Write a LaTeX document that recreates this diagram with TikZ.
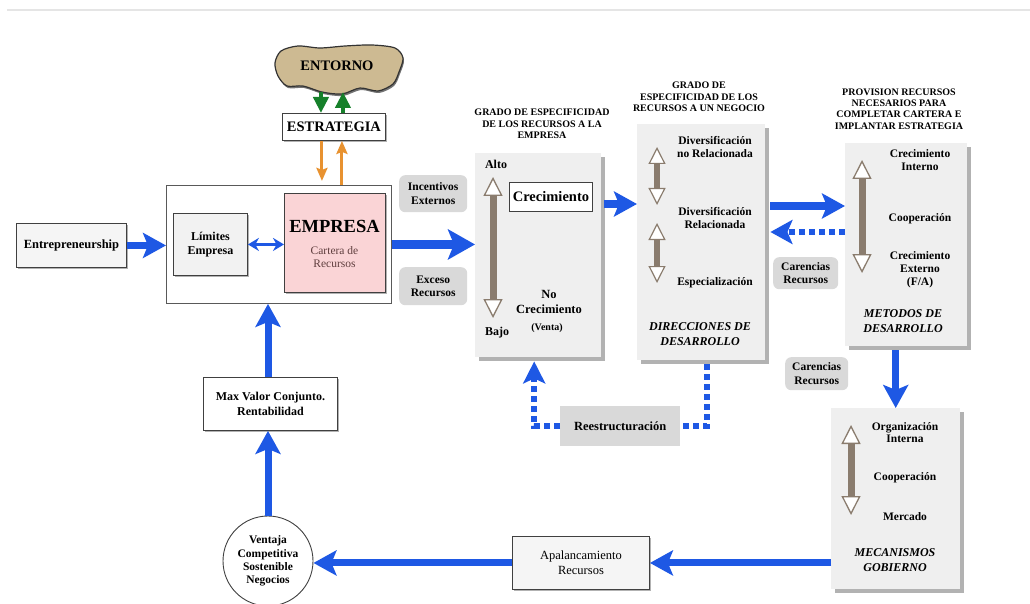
\documentclass[tikz,border=0pt]{standalone}
\usepackage{fontspec}
\setmainfont{Liberation Serif}
\usetikzlibrary{arrows.meta,shadows}
\definecolor{azul}{RGB}{30,88,228}
\definecolor{verde}{RGB}{22,128,42}
\definecolor{naranja}{RGB}{232,146,48}
\definecolor{cafe}{RGB}{138,124,110}
\definecolor{tierra}{RGB}{205,186,146}
\definecolor{rosa}{RGB}{250,212,214}
\definecolor{panelgris}{RGB}{239,239,239}
\definecolor{cajagris}{RGB}{217,217,217}
\definecolor{marron}{RGB}{95,62,62}
\newcommand{\tam}[2]{\fontsize{#1}{#2}\selectfont}
\begin{document}
\begin{tikzpicture}[x=1pt,y=-1pt,
	txt/.style={font=\bfseries\tam{11.5}{13}, align=center, inner sep=0pt},
	titulo/.style={font=\bfseries\tam{10}{11.3}, align=center, inner sep=0pt},
	cursiva/.style={font=\bfseries\itshape\tam{12}{15}, align=center, inner sep=0pt},
	caja/.style={draw=black!75, line width=0.9pt, fill=white, inner sep=0pt, anchor=north west, align=center},
	sombra/.style={drop shadow={shadow xshift=2pt,shadow yshift=-2pt,fill=black!30,opacity=1}},
	panel/.style={fill=panelgris, inner sep=0pt, anchor=north west,
		drop shadow={shadow xshift=4pt,shadow yshift=-4pt,fill=black!30,opacity=1}},
	gris/.style={fill=cajagris, rounded corners=6pt, inner sep=0pt, anchor=north west,
		font=\bfseries\tam{11.5}{13.5}, align=center},
	flecha/.style={draw=azul, line width=7pt, -{Stealth[length=23pt,width=25pt,inset=5pt]}},
	punteada/.style={draw=azul, line width=6pt, dash pattern=on 6pt off 4pt},
	hueca/.style={draw=cafe, line width=7pt,
		{Triangle[length=19pt,width=19pt,fill=white,line width'=1.3pt]}-{Triangle[length=19pt,width=19pt,fill=white,line width'=1.3pt]}},
	huecachica/.style={draw=cafe, line width=6pt,
		{Triangle[length=17pt,width=17pt,fill=white,line width'=1.2pt]}-{Triangle[length=17pt,width=17pt,fill=white,line width'=1.2pt]}},
	]
	\useasboundingbox (0,0) rectangle (1030,604);
	\draw[black!10, line width=1.5pt] (7,10) -- (1030,10); % linea de pagina
	% niveles de las flechas horizontales
	\coordinate (n12) at (0,204);
	\coordinate (n23) at (0,206);
	\coordinate (n32) at (0,232);
	% ---------- entorno y estrategia
	\fill[black!55] plot[smooth cycle] coordinates {(276,65) (282,53) (299,48) (321,50) (346,48) (373,47) (396,50) (404,60) (400,74) (394,86) (379,93) (361,90) (343,96) (323,94) (304,88) (288,88) (279,78)};
	\draw[fill=tierra, draw=black!80, line width=1.2pt] plot[smooth cycle] coordinates {(275,63) (281,51) (298,46) (320,48) (345,46) (372,45) (395,48) (403,58) (399,72) (393,84) (378,91) (360,88) (342,94) (322,92) (303,86) (287,86) (278,76)};
	\node[txt, font=\bfseries\tam{14.5}{16}] (entorno) at (337,66) {ENTORNO};
	\node[caja, sombra, minimum width=103pt, minimum height=27pt, font=\bfseries\tam{14.5}{16}] (estr) at (282,113) {ESTRATEGIA};
	\draw[verde, line width=4pt, -{Triangle[length=16pt,width=15pt]}] ([xshift=-13pt,yshift=21pt]estr.north) -- ([xshift=-13pt]estr.north);
	\draw[verde, line width=4pt, -{Triangle[length=16pt,width=15pt]}] ([xshift=9pt]estr.north) -- ([xshift=9pt,yshift=21pt]estr.north);
	% ---------- empresa
	\node[caja, draw=black!65, minimum width=225pt, minimum height=118pt] (marco) at (166,185) {};
	\draw[naranja, line width=3pt, -{Stealth[length=13pt,width=11pt,inset=2pt]}] ([xshift=-12pt]estr.south) -- ([xshift=-12pt,yshift=-40pt]estr.south);
	\draw[naranja, line width=3pt, -{Stealth[length=13pt,width=11pt,inset=2pt]}] ([xshift=8pt]estr.south |- marco.north) -- ([xshift=8pt]estr.south);
	\node[caja, sombra, fill=black!5, minimum width=74pt, minimum height=62pt, font=\bfseries\tam{12}{14.5}] (limites) at (173,213) {Límites\\Empresa};
	\node[caja, sombra, fill=rosa, minimum width=101pt, minimum height=99pt] (empresa) at (284,193) {};
	\node[txt, font=\bfseries\tam{18.5}{20}] (empresat) at (334.5,226) {EMPRESA};
	\node[txt, font=\tam{11.5}{13.5}, text=marron] (cartera) at (334.5,257) {Cartera de\\Recursos};
	\node[caja, sombra, fill=black!4, minimum width=110pt, minimum height=44pt, font=\bfseries\tam{12.5}{14}] (entre) at (16,223) {Entrepreneurship};
	\draw[flecha] (entre.east) -- (entre.east -| marco.west);
	\draw[azul, line width=3.5pt, {Stealth[length=11pt,width=13pt]}-{Stealth[length=11pt,width=13pt]}] (limites.east) -- (limites.east -| empresa.west);
	\node[gris, minimum width=68pt, minimum height=37pt] (incent) at (399,175) {Incentivos\\Externos};
	\node[gris, minimum width=68pt, minimum height=38pt] (exceso) at (399,267) {Exceso\\Recursos};
	% ---------- grado de especificidad (empresa)
	\node[panel, minimum width=126pt, minimum height=204pt] (p1) at (475,153) {};
	\node[titulo] (t1) at (542,124) {GRADO DE ESPECIFICIDAD\\DE LOS RECURSOS A LA\\EMPRESA};
	\draw[flecha, line width=8.5pt, -{Stealth[length=27pt,width=30pt,inset=6pt]}] (marco.east) -- (marco.east -| p1.west);
	\draw[hueca] (493,177) -- (493,318);
	\node[txt, font=\bfseries\tam{12}{14}] (alto) at (496,164) {Alto};
	\node[txt, font=\bfseries\tam{12}{14}] (bajo) at (497,333) {Bajo};
	\node[caja, minimum width=83pt, minimum height=29pt, font=\bfseries\tam{14.5}{16}] (creci) at (509,182) {Crecimiento};
	\node[txt, font=\bfseries\tam{12.5}{15}] (nocreci) at (549,302) {No\\Crecimiento};
	\node[txt, font=\bfseries\tam{10}{12}] (venta) at (547,328) {(Venta)};
	% ---------- direcciones de desarrollo
	\node[panel, minimum width=128pt, minimum height=236pt] (p2) at (637,124) {};
	\node[titulo] (t2) at (699,97) {GRADO DE\\ESPECIFICIDAD DE LOS\\RECURSOS A UN NEGOCIO};
	\draw[flecha, shorten <=3pt] (p1.east |- n12) -- (p2.west |- n12);
	\draw[huecachica] (657,147) -- (657,205);
	\draw[huecachica] (657,223) -- (657,283);
	\node[txt] (divnr) at (715,147.5) {Diversificación\\no Relacionada};
	\node[txt] (divr) at (715,218.5) {Diversificación\\Relacionada};
	\node[txt] (espec) at (715,283) {Especialización};
	\node[cursiva] (direc) at (700,334.5) {DIRECCIONES DE\\DESARROLLO};
	% ---------- metodos de desarrollo
	\node[panel, minimum width=122pt, minimum height=203pt] (p3) at (845,143) {};
	\node[titulo] (t3) at (899,109) {PROVISION RECURSOS\\NECESARIOS PARA\\COMPLETAR CARTERA E\\IMPLANTAR ESTRATEGIA};
	\draw[flecha, shorten <=5pt] (p2.east |- n23) -- (p3.west |- n23);
	\draw[punteada, shorten >=5pt, -{Stealth[length=22pt,width=24pt,inset=5pt]}] (p3.west |- n32) -- (p2.east |- n32);
	\node[gris, minimum width=65pt, minimum height=32pt] (caren1) at (773,257) {Carencias\\Recursos};
	\draw[hueca] (862,160) -- (862,273);
	\node[txt] (creint) at (920,160.5) {Crecimiento\\Interno};
	\node[txt] (coop1) at (920,219) {Cooperación};
	\node[txt] (creext) at (920,270) {Crecimiento\\Externo\\(F/A)};
	\node[cursiva] (metod) at (903,321.5) {METODOS DE\\DESARROLLO};
	% ---------- mecanismos de gobierno
	\node[panel, minimum width=129pt, minimum height=181pt] (p4) at (831,408) {};
	\draw[flecha, shorten <=4pt] (p4.north |- p3.south) -- (p4.north);
	\node[gris, minimum width=63pt, minimum height=33pt] (caren2) at (785,357) {Carencias\\Recursos};
	\draw[hueca] (851,425) -- (851,515);
	\node[txt, font=\bfseries\tam{11.5}{11.5}] (orgint) at (905,432.5) {Organización\\Interna};
	\node[txt] (coop2) at (905,478) {Cooperación};
	\node[txt] (merc) at (905,517) {Mercado};
	\node[cursiva] (mecan) at (895,560.5) {MECANISMOS\\GOBIERNO};
	% ---------- retorno
	\node[caja, sombra, fill=black!4, minimum width=137pt, minimum height=53pt, font=\tam{12.5}{15}] (apal) at (512,536) {Apalancamiento\\Recursos};
	\draw[flecha] (p4.west |- apal.east) -- (apal.east);
	\node[circle, draw=black!75, line width=0.9pt, fill=white, minimum size=90pt, inner sep=0pt, align=center, font=\bfseries\tam{11.5}{13.3}] (circ) at (268,561) {Ventaja\\Competitiva\\Sostenible\\Negocios};
	\draw[flecha] (apal.west) -- (apal.west -| circ.east);
	\node[caja, sombra, minimum width=134pt, minimum height=53pt, font=\bfseries\tam{12}{14.5}] (maxv) at (203,377) {Max Valor Conjunto.\\Rentabilidad};
	\draw[flecha] (circ.north) -- (circ.north |- maxv.south);
	\draw[flecha] (circ.north |- maxv.north) -- (circ.north |- marco.south);
	% ---------- reestructuracion
	\node[fill=cajagris, anchor=north west, minimum width=120pt, minimum height=40pt, inner sep=0pt, font=\bfseries\tam{12.5}{14}] (reest) at (560,406) {Reestructuración};
	\draw[punteada, shorten <=4pt] ([xshift=6pt]p2.south) |- (reest.east);
	\draw[punteada, shorten >=4pt, -{Stealth[length=22pt,width=22pt,inset=5pt]}] (reest.west) -| ([xshift=-4pt]p1.south);
\end{tikzpicture}
\end{document}
